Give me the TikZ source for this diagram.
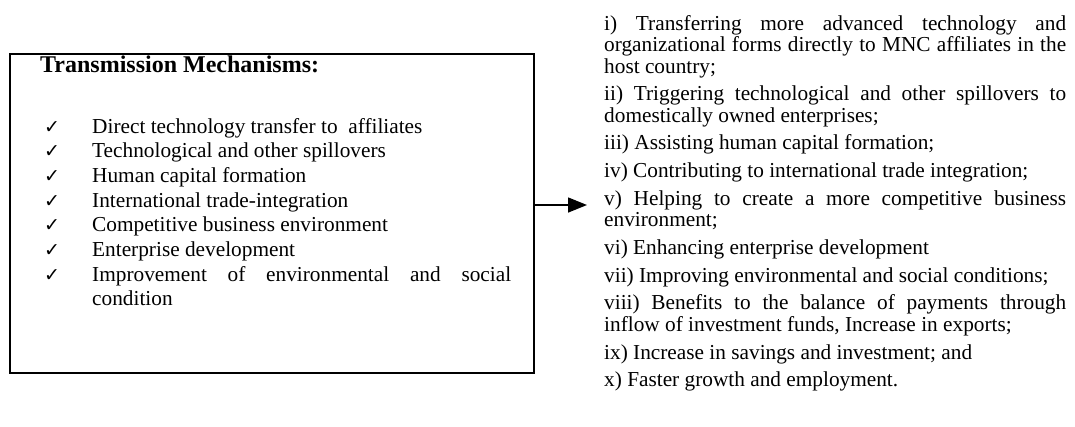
\documentclass[tikz,border=0pt]{standalone}
\usepackage{fontspec}
\setmainfont{Liberation Serif}
\newfontfamily\symfont{DejaVu Sans}
\usetikzlibrary{arrows.meta}
\tikzset{
  item/.style={anchor=base west, inner sep=0pt, font=\fontsize{21.3}{24.7}\selectfont},
  rtext/.style={anchor=base west, inner sep=0pt, font=\fontsize{21.3}{21.5}\selectfont},
  tick/.style={anchor=base west, inner sep=0pt, font=\symfont\fontsize{19}{19}\selectfont},
  boxtitle/.style={anchor=base west, inner sep=0pt, font=\fontsize{24}{28}\selectfont\bfseries},
  frame/.style={draw, line width=1.8pt, inner sep=0pt, anchor=north west},
  arr/.style={line width=1.5pt, -{Triangle[length=19pt,width=15pt]}},
}
\newcommand{\jline}[1]{\makebox[462pt][s]{#1}}
\newcommand{\jitem}[1]{\makebox[419pt][s]{#1}}
\begin{document}
\begin{tikzpicture}[x=1pt,y=-1pt]
\useasboundingbox (0,0) rectangle (1075,426);
% left box
\node[frame, minimum width=524pt, minimum height=319pt] (box) at (9,53) {};
\node[boxtitle] (title) at (40,72) {Transmission Mechanisms:};
\foreach \i/\t [count=\k from 0] in {1/Direct technology transfer to\ \ affiliates,
  2/Technological and other spillovers,
  3/Human capital formation,
  4/International trade-integration,
  5/Competitive business environment,
  6/Enterprise development,
  7/{\jitem{Improvement of environmental and social}}}{
  \node[tick] (c\i) at (44,133+24.7*\k) {✓};
  \node[item] (l\i) at (92,133+24.7*\k) {\t};
}
\node[item] (l8) at (92,133+24.7*7) {condition};
% arrow
\coordinate (tip) at (587,205);
\draw[arr] (box.east |- tip) -- (tip);
% right column
\node[rtext] (r1) at (604,30) {\jline{i) Transferring more advanced technology and}};
\node[rtext] (r2) at (604,51.5) {\jline{organizational forms directly to MNC affiliates in the}};
\node[rtext] (r3) at (604,73) {host country;};
\node[rtext] (r4) at (604,100.7) {\jline{ii) Triggering technological and other spillovers to}};
\node[rtext] (r5) at (604,122.2) {domestically owned enterprises;};
\node[rtext] (r6) at (604,149.9) {iii) Assisting human capital formation;};
\node[rtext] (r7) at (604,177.6) {iv) Contributing to international trade integration;};
\node[rtext] (r8) at (604,205.3) {\jline{v) Helping to create a more competitive business}};
\node[rtext] (r9) at (604,226.8) {environment;};
\node[rtext] (r10) at (604,254.5) {vi) Enhancing enterprise development};
\node[rtext] (r11) at (604,282.2) {vii) Improving environmental and social conditions;};
\node[rtext] (r12) at (604,309.9) {\jline{viii) Benefits to the balance of payments through}};
\node[rtext] (r13) at (604,331.4) {inflow of investment funds, Increase in exports;};
\node[rtext] (r14) at (604,359.1) {ix) Increase in savings and investment; and};
\node[rtext] (r15) at (604,386.8) {x) Faster growth and employment.};
\end{tikzpicture}
\end{document}
